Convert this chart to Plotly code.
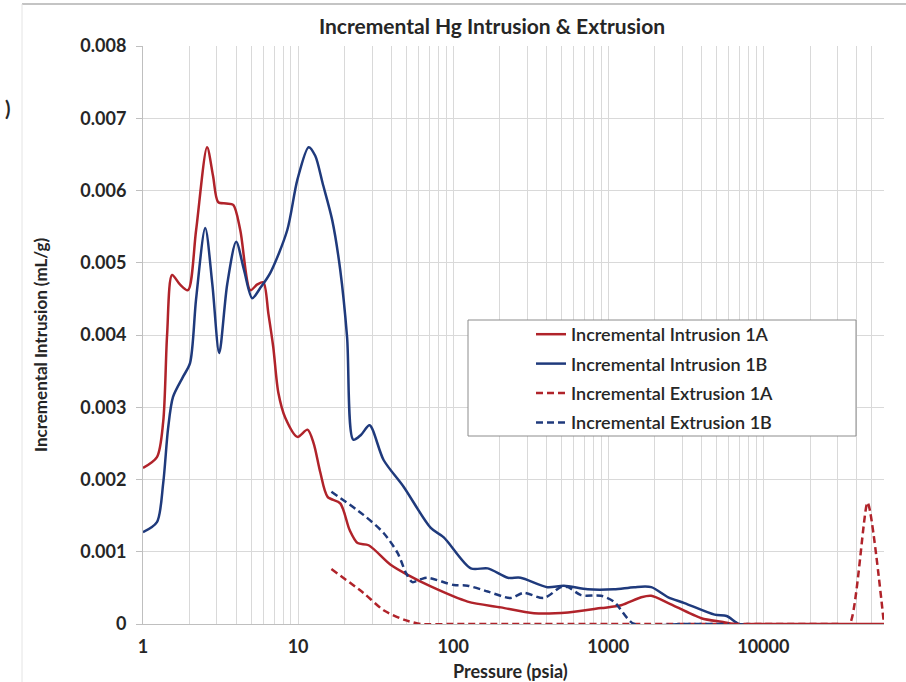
import plotly.graph_objects as go
import math

# ---------------- data ----------------
p_int_1a = [1.00, 1.23, 1.35, 1.43, 1.54, 1.73, 1.95, 2.20, 2.59, 2.83, 3.05, 3.44, 3.82, 4.24,
            4.92, 5.46, 5.97, 6.43, 6.92, 7.46, 8.28, 9.9, 11.5, 12.6, 13.9, 15.5, 18.7, 21.5,
            24.2, 28.5, 39.5, 50.9, 71.7, 124, 203, 332, 550, 900, 1211, 1633, 1893, 2439,
            3985, 5370, 6510, 10000, 20000, 40000, 60000]
v_int_1a = [0.00216, 0.00231, 0.0028, 0.0040, 0.00483, 0.00470, 0.00462, 0.00545, 0.0066, 0.0062,
            0.00584, 0.00582, 0.0058, 0.00545, 0.00462, 0.0047, 0.00473, 0.0043, 0.00383, 0.0032,
            0.00285, 0.00259, 0.00269, 0.0025, 0.0021, 0.00176, 0.00167, 0.0013, 0.00112, 0.00109,
            0.00082, 0.00068, 0.00052, 0.00031, 0.00023, 0.00015, 0.00016, 0.00022, 0.00026,
            0.00037, 0.00039, 0.00029, 0.00008, 0.00003, 0.0, 0.0, 0.0, 0.0, 0.0]

p_int_1b = [1.00, 1.23, 1.35, 1.45, 1.56, 1.81, 2.01, 2.20, 2.52, 2.80, 3.10, 3.49, 3.99, 4.48,
            5.06, 5.70, 6.62, 8.51, 9.9, 11.7, 12.9, 14.4, 16.6, 18.7, 20.7, 22.7, 25.5, 28.9,
            35.6, 47.9, 71.7, 87, 130, 167, 225, 272, 404, 518, 737, 1087, 1469, 1893, 2439,
            3102, 4854, 5800, 6960, 8000]
v_int_1b = [0.00127, 0.00141, 0.00195, 0.0027, 0.00314, 0.00342, 0.00361, 0.0045, 0.00548, 0.0047,
            0.00375, 0.0047, 0.00529, 0.0049, 0.00451, 0.00465, 0.00486, 0.00545, 0.00615, 0.0066,
            0.00648, 0.0061, 0.00559, 0.0049, 0.00397, 0.00255, 0.00262, 0.00275, 0.00227, 0.0019,
            0.00133, 0.0012, 0.00077, 0.00077, 0.00064, 0.00064, 0.00051, 0.00053, 0.00048,
            0.00048, 0.00051, 0.00051, 0.00037, 0.00029, 0.00013, 0.00011, 0.0, 0.0]

p_ext_1a = [16.4, 26.4, 35.6, 48, 61.8, 100, 1000, 10000, 30000, 36000, 47000, 60000]
v_ext_1a = [0.00076, 0.00043, 0.00019, 0.00006, 0.0, 0.0, 0.0, 0.0, 0.0, 0.0, 0.00168, 0.0]

p_ext_1b = [16.4, 26.4, 35.6, 43.9, 49.8, 54.6, 61.8, 68.3, 101, 124, 167, 235, 285, 385, 495,
            550, 668, 900, 1087, 1469, 3000, 6000]
v_ext_1b = [0.00183, 0.00151, 0.00126, 0.00098, 0.0007, 0.00058, 0.00062, 0.00064, 0.00054,
            0.00053, 0.00045, 0.00036, 0.00043, 0.00036, 0.00051, 0.00051, 0.0004, 0.00039,
            0.00031, 0.0, 0.0, 0.0]

series_names = ["Incremental Intrusion 1A", "Incremental Intrusion 1B",
                "Incremental Extrusion 1A", "Incremental Extrusion 1B"]

y_tick_vals = [0, 0.001, 0.002, 0.003, 0.004, 0.005, 0.006, 0.007, 0.008]
y_tick_text = ["0", "0.001", "0.002", "0.003", "0.004", "0.005", "0.006", "0.007", "0.008"]
x_tick_vals = [1, 10, 100, 1000, 10000]
x_tick_text = ["1", "10", "100", "1000", "10000"]

# ---------------- styling ----------------
RED = "#b0232a"
BLUE = "#1f3a7c"
TXT = "#262626"
FONT = "Lato"
W, H = 906, 682
L, R, T, B = 143, 22, 46, 58
pw, ph = W - L - R, H - T - B

def px(xp):
    return (xp - L) / pw

def py(yp):
    return (H - B - yp) / ph

minor_vals = [m * 10 ** d for d in range(0, 5) for m in range(2, 10) if m * 10 ** d <= 60000]

fig = go.Figure()
styles = [
    (p_int_1a, v_int_1a, RED, "solid", 0.8),
    (p_int_1b, v_int_1b, BLUE, "solid", 0.8),
    (p_ext_1a, v_ext_1a, RED, "7px,4px", 0.6),
    (p_ext_1b, v_ext_1b, BLUE, "7px,4px", 0.8),
]
for i, (xs, ys, col, dash, sm) in enumerate(styles):
    fig.add_trace(go.Scatter(x=xs, y=ys, name=series_names[i], mode="lines",
                             legendgroup=f"g{i}",
                             line=dict(color=col, width=2.5, dash=dash,
                                       shape="spline", smoothing=sm)))

fig.update_layout(
    width=W, height=H,
    margin=dict(l=L, r=R, t=T, b=B, pad=0),
    paper_bgcolor="white", plot_bgcolor="white",
    font=dict(family=FONT, color=TXT),
    title=dict(text="Incremental Hg Intrusion & Extrusion", x=492 / W, xanchor="center",
               y=1 - 27 / H, yanchor="middle",
               font=dict(family=FONT, size=21, weight="bold", color=TXT)),
    xaxis=dict(type="log", range=[0, math.log10(60000)],
               tickvals=x_tick_vals, ticktext=x_tick_text,
               tickfont=dict(family=FONT, size=18, weight="bold", color=TXT),
               ticklabelstandoff=6,
               showgrid=True, gridcolor="#d9d9d9", gridwidth=1,
               minor=dict(tickmode="array", tickvals=minor_vals, showgrid=True,
                          gridcolor="#d9d9d9", gridwidth=1),
               showline=True, linecolor="#bfbfbf", linewidth=1,
               ticks="", zeroline=False),
    yaxis=dict(range=[0, 0.008], tickvals=y_tick_vals, ticktext=y_tick_text,
               tickfont=dict(family=FONT, size=18, weight="bold", color=TXT),
               ticklabelstandoff=6,
               showgrid=True, gridcolor="#d9d9d9", gridwidth=1,
               showline=True, linecolor="#bfbfbf", linewidth=1,
               ticks="outside", ticklen=6, tickcolor="#bfbfbf",
               zeroline=False),
    legend=dict(x=px(531), y=py(316), xanchor="left", yanchor="top",
                bgcolor="rgba(0,0,0,0)", borderwidth=0,
                font=dict(family=FONT, size=18, weight=600, color=TXT),
                traceorder="grouped", tracegroupgap=3, itemwidth=30),
    showlegend=True,
)

shapes = [
    # legend frame
    dict(type="rect", xref="paper", yref="paper", x0=px(468), x1=px(856), y0=py(436), y1=py(320),
         line=dict(color="#8c8c8c", width=1), fillcolor="white", layer="above"),
    # outer frame fragments of the original image
    dict(type="line", xref="paper", yref="paper", x0=px(22), x1=px(906), y0=py(4), y1=py(4),
         line=dict(color="#b0b0b0", width=1.5)),
    dict(type="line", xref="paper", yref="paper", x0=px(22), x1=px(22), y0=py(4), y1=py(682),
         line=dict(color="#e4e4e4", width=1)),
]
fig.update_layout(shapes=shapes)

# axis titles
fig.add_annotation(text="Pressure (psia)", xref="paper", yref="paper", x=px(510), y=py(671),
                   showarrow=False, xanchor="center", yanchor="middle",
                   font=dict(family=FONT, size=18, weight="bold", color=TXT))
fig.add_annotation(text="Incremental Intrusion (mL/g)", xref="paper", yref="paper",
                   x=px(40), y=py(345), textangle=-90,
                   showarrow=False, xanchor="center", yanchor="middle",
                   font=dict(family=FONT, size=17, weight="bold", color=TXT))
fig.add_annotation(text=")", xref="paper", yref="paper", x=px(8), y=py(108),
                   showarrow=False, xanchor="center", yanchor="middle",
                   font=dict(family=FONT, size=20, weight="bold", color=TXT))

fig.write_html("out.html")
